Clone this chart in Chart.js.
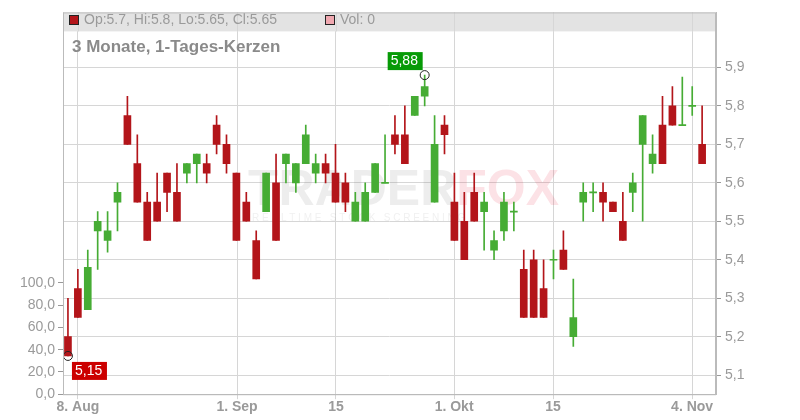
<!DOCTYPE html>
<html><head><meta charset="utf-8">
<script src="https://cdn.jsdelivr.net/npm/chart.js@4/dist/chart.umd.min.js"></script>
<style>body{margin:0;background:#fff}#w{width:800px;height:420px}</style>
</head><body><div id="w"><canvas id="c"></canvas></div>
<script>
const opens  = [5.2,5.325,5.27,5.475,5.45,5.55,5.775,5.65,5.55,5.55,5.625,5.575,5.625,5.65,5.65,5.75,5.7,5.625,5.55,5.45,5.525,5.6,5.65,5.6,5.65,5.625,5.65,5.625,5.6,5.5,5.5,5.575,5.6,5.725,5.725,5.775,5.825,5.55,5.75,5.55,5.5,5.575,5.525,5.425,5.475,5.525,5.375,5.4,5.325,5.4,5.425,5.2,5.55,5.575,5.575,5.55,5.5,5.575,5.7,5.65,5.75,5.8,5.75,5.8,5.7];
const highs  = [5.3,5.375,5.425,5.525,5.525,5.6,5.825,5.725,5.575,5.625,5.625,5.65,5.65,5.675,5.675,5.775,5.725,5.625,5.575,5.475,5.625,5.675,5.675,5.65,5.75,5.675,5.675,5.7,5.625,5.575,5.6,5.65,5.725,5.775,5.8,5.825,5.88,5.775,5.775,5.625,5.575,5.625,5.575,5.475,5.575,5.55,5.425,5.425,5.4,5.425,5.475,5.35,5.6,5.6,5.6,5.55,5.575,5.625,5.775,5.725,5.825,5.85,5.875,5.85,5.8];
const lows   = [5.15,5.25,5.27,5.375,5.42,5.475,5.7,5.55,5.45,5.5,5.525,5.5,5.6,5.6,5.6,5.675,5.625,5.45,5.5,5.35,5.525,5.45,5.6,5.575,5.65,5.6,5.6,5.55,5.525,5.5,5.5,5.575,5.6,5.675,5.65,5.775,5.8,5.55,5.675,5.45,5.4,5.5,5.425,5.4,5.45,5.475,5.25,5.25,5.25,5.35,5.375,5.175,5.5,5.525,5.5,5.525,5.45,5.525,5.5,5.625,5.65,5.75,5.75,5.775,5.65];
const closes = [5.15,5.25,5.38,5.5,5.475,5.575,5.7,5.55,5.45,5.5,5.575,5.5,5.65,5.675,5.625,5.7,5.65,5.45,5.5,5.35,5.625,5.45,5.675,5.65,5.725,5.65,5.625,5.55,5.55,5.55,5.575,5.65,5.6,5.7,5.65,5.825,5.85,5.7,5.725,5.45,5.4,5.5,5.55,5.45,5.55,5.525,5.25,5.25,5.25,5.4,5.375,5.25,5.575,5.575,5.55,5.525,5.45,5.6,5.775,5.675,5.65,5.75,5.75,5.8,5.65];
const dateTickPos = [1,17.06,27.05,38.97,48.96,62.99];
const dateTickLabels = ['8. Aug','1. Sep','15','1. Okt','15','4. Nov'];
const priceTicks = [5.1,5.2,5.3,5.4,5.5,5.6,5.7,5.8,5.9];
const volTicks = [0,20,40,60,80,100];

const RED='#b3151a', GREEN='#46ac34';
const col = opens.map((o,i)=> closes[i]>=o ? GREEN : RED);
const wick = opens.map((o,i)=>({x:i,y:[lows[i],highs[i]]}));
const body = opens.map((o,i)=>{let a=Math.min(o,closes[i]),b=Math.max(o,closes[i]); if(b-a<0.003){a-=0.0013;b+=0.0013;} return {x:i,y:[a,b]};});

const deco = {
  id:'deco',
  beforeDatasetsDraw(ch){
    const c=ch.ctx, a=ch.chartArea;
    c.save();
    c.fillStyle='#e3e3e3'; c.fillRect(a.left,a.top,a.right-a.left,19);
    c.strokeStyle='#d6d6d6'; c.lineWidth=1;
    const xs=ch.scales.x;
    dateTickPos.forEach(p=>{const x=Math.round(xs.getPixelForValue(p))+0.5;c.beginPath();c.moveTo(x,a.top);c.lineTo(x,a.top+19);c.stroke();});
    c.globalAlpha=0.13; c.font='bold 50px "Liberation Sans"';
    c.fillStyle='#777'; c.fillText('TRADER',248,205);
    const w=c.measureText('TRADER').width;
    c.fillStyle='#e8223a'; c.fillText('FOX',248+w,205);
    c.font='10px "Liberation Sans"'; c.fillStyle='#888'; c.fillText('R E A L T I M E   S T O C K   S C R E E N I N G',252,221);
    c.restore();
  },
  afterDatasetsDraw(ch){
    const c=ch.ctx, a=ch.chartArea, xs=ch.scales.x, ys=ch.scales.y;
    c.save();
    c.font='14px "Liberation Sans"'; c.textBaseline='middle';
    c.fillStyle=RED; c.fillRect(69,15,10,10); c.strokeStyle='#222'; c.strokeRect(69.5,15.5,9,9);
    c.fillStyle='#9a9a9a'; c.fillText('Op:5.7, Hi:5.8, Lo:5.65, Cl:5.65',84,20);
    c.fillStyle='#f0a8b0'; c.fillRect(325,15,10,10); c.strokeRect(325.5,15.5,9,9);
    c.fillStyle='#9a9a9a'; c.fillText('Vol: 0',340,20);
    c.font='bold 17px "Liberation Sans"'; c.fillStyle='#8a8a8a'; c.fillText('3 Monate, 1-Tages-Kerzen',72,47);
    const lo=lows.indexOf(Math.min(...lows)), hi=highs.indexOf(Math.max(...highs));
    const px1=xs.getPixelForValue(lo), py1=ys.getPixelForValue(lows[lo]);
    const px2=xs.getPixelForValue(hi), py2=ys.getPixelForValue(highs[hi]);
    c.lineWidth=1; c.strokeStyle='#222';
    c.beginPath(); c.arc(px1,py1,4.5,0,Math.PI*2); c.stroke();
    c.beginPath(); c.arc(px2,py2,4.5,0,Math.PI*2); c.stroke();
    c.font='14px "Liberation Sans"';
    c.fillStyle='#cc0000'; c.fillRect(px1+4,py1+6,35,18); c.fillStyle='#fff'; c.fillText('5,15',px1+7,py1+15.5);
    c.fillStyle='#069a06'; c.fillRect(px2-37,py2-23,35,18); c.fillStyle='#fff'; c.fillText('5,88',px2-34,py2-13.5);
    c.strokeStyle='#bbb'; c.strokeRect(a.left+0.5,a.top+0.5,a.right-a.left-1,a.bottom-a.top);
    c.restore();
  }
};

new Chart(document.getElementById('c'),{
  type:'bar',
  data:{datasets:[
    {data:wick,backgroundColor:col,barThickness:1,grouped:false,yAxisID:'y',order:2},
    {data:body,backgroundColor:col,barThickness:7,grouped:false,yAxisID:'y',order:1}
  ]},
  options:{
    responsive:true,maintainAspectRatio:false,animation:false,
    layout:{padding:{top:10,left:0,right:0,bottom:4}},
    plugins:{legend:{display:false},tooltip:{enabled:false}},
    scales:{
      x:{type:'linear',min:-0.5,max:65.4,offset:false,
        afterBuildTicks(s){s.ticks=dateTickPos.map(v=>({value:v}));},
        ticks:{callback:(v,i)=>dateTickLabels[i],color:'#9a9a9a',font:{family:'Liberation Sans',size:14,weight:'bold'},maxRotation:0,padding:0,autoSkip:false},
        grid:{color:'#d6d6d6',tickLength:5,offset:false},border:{color:'#bbb'}},
      y:{position:'right',min:5.0505,max:6.043,
        afterBuildTicks(s){s.ticks=priceTicks.map(v=>({value:v}));},
        afterFit(s){s.width=84;},
        ticks:{callback:v=>v.toFixed(1).replace('.',','),color:'#9a9a9a',font:{family:'Liberation Sans',size:14},padding:4},
        grid:{color:'#d6d6d6',tickLength:5,tickColor:'#999'},border:{color:'#bbb'}},
      v:{position:'left',min:0,max:343,
        afterBuildTicks(s){s.ticks=volTicks.map(v=>({value:v}));},
        afterFit(s){s.width=63;},
        ticks:{callback:v=>v.toFixed(1).replace('.',','),color:'#9a9a9a',font:{family:'Liberation Sans',size:14},padding:3},
        grid:{drawOnChartArea:false,tickLength:5,tickColor:'#999'},border:{color:'#bbb'}}
    }
  },
  plugins:[deco]
});
</script></body></html>
